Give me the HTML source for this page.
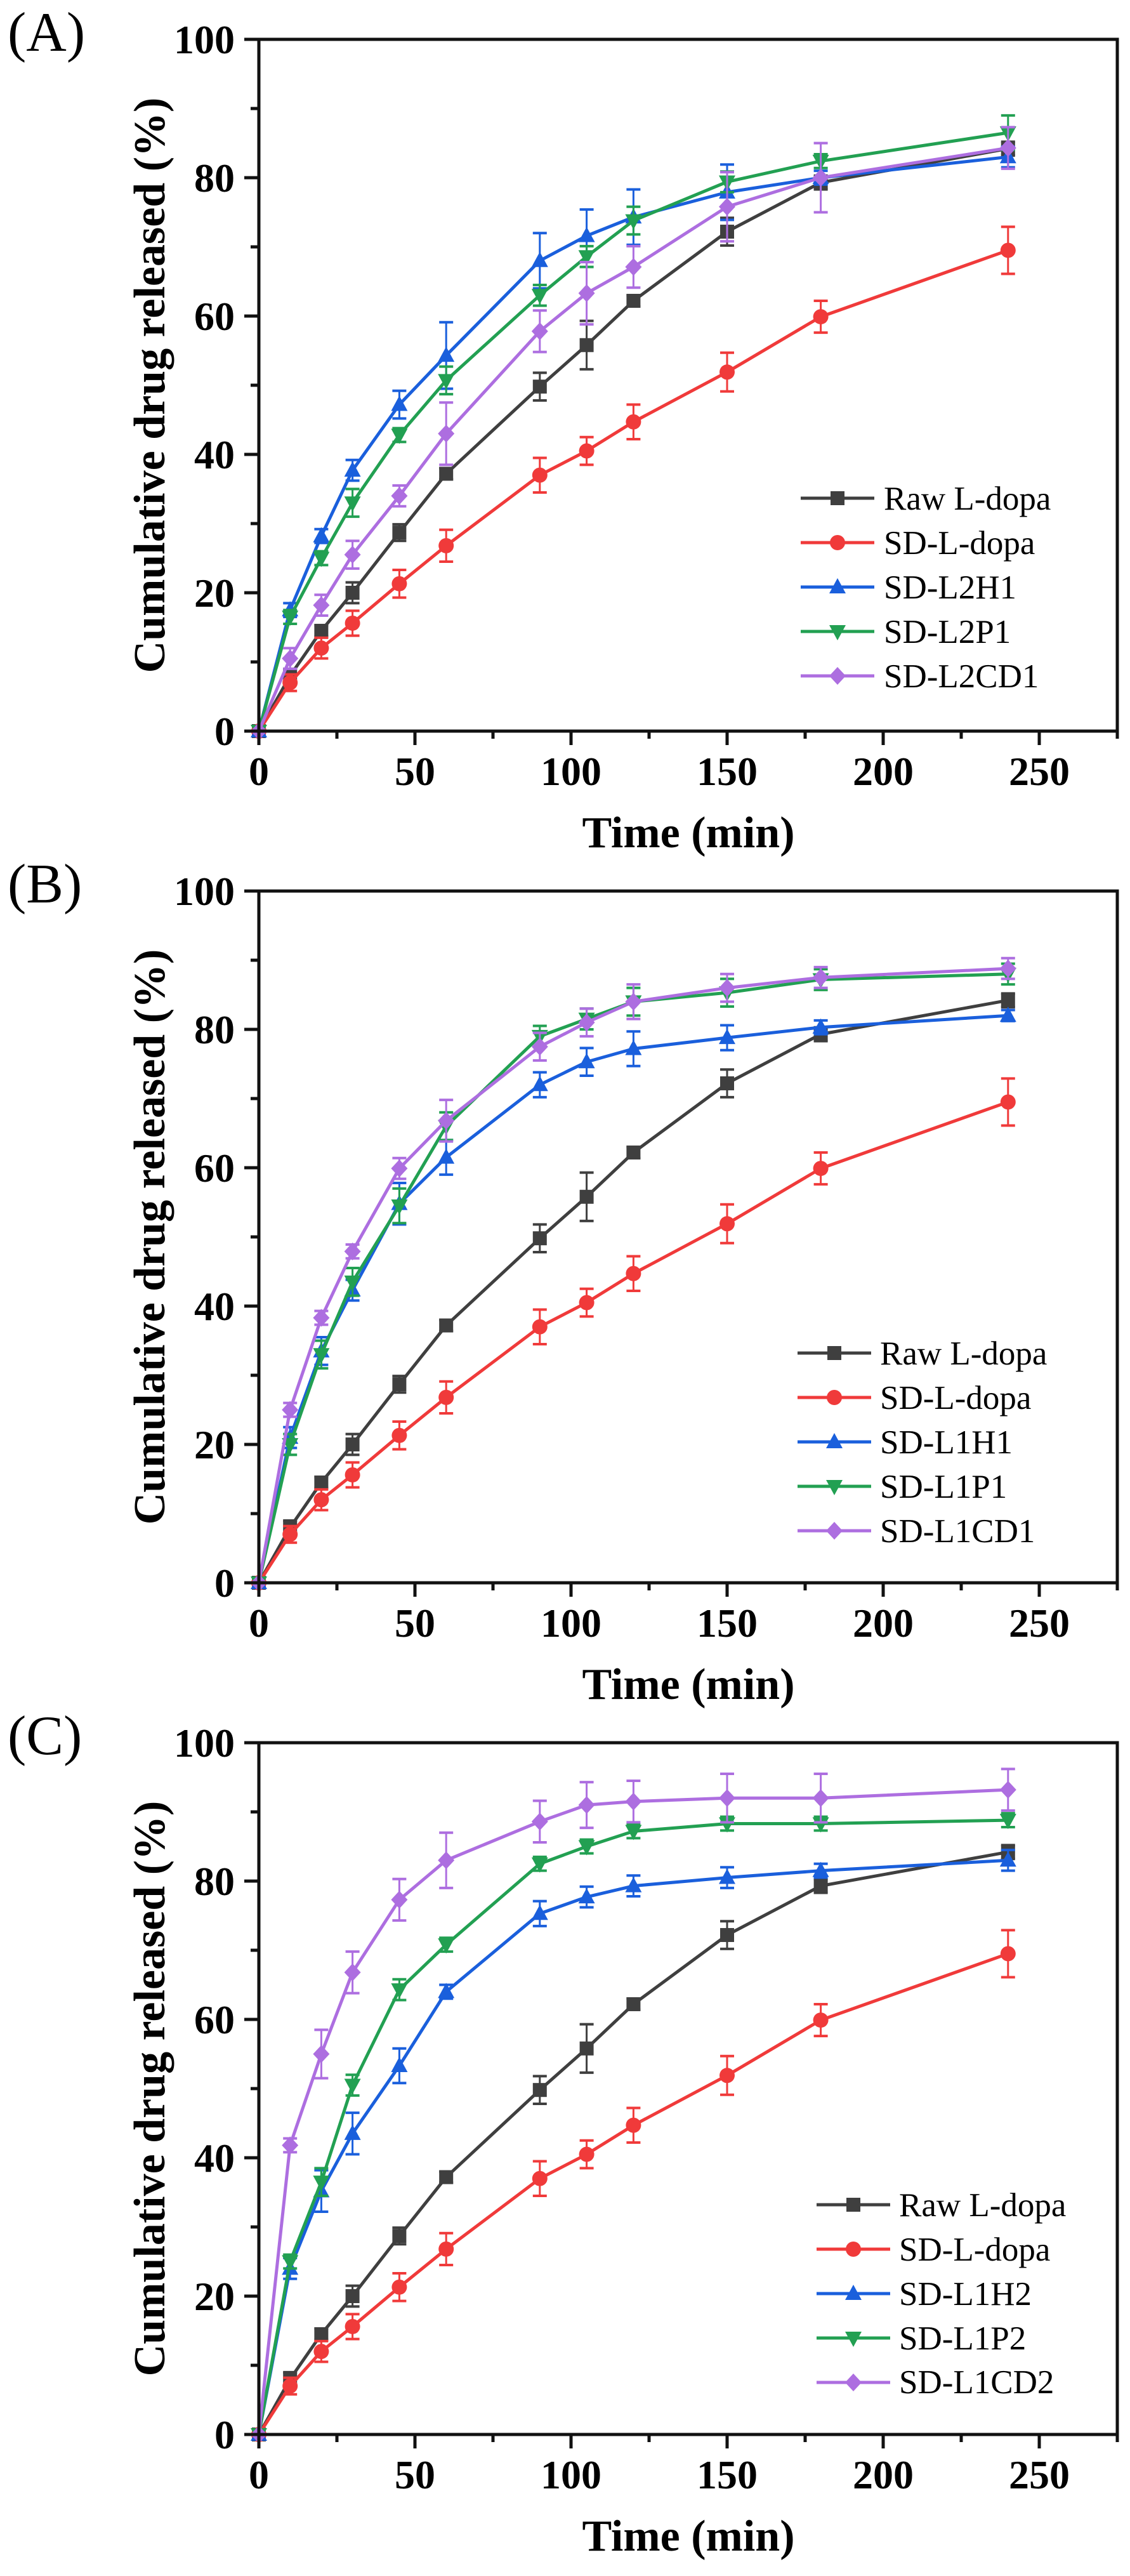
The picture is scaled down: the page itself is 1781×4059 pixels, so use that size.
<!DOCTYPE html>
<html><head><meta charset="utf-8">
<style>
html,body{margin:0;padding:0;background:#fff;}
svg{display:block;}
text{font-family:"Liberation Serif","Times New Roman",Times,serif;fill:#000;}
.tk{font-size:64px;font-weight:bold;}
.ti{font-size:70px;font-weight:bold;}
.lg{font-size:53px;}
.pl{font-size:88px;}
</style></head>
<body>
<svg id="s" width="1781" height="4059" viewBox="0 0 1781 4059" xmlns="http://www.w3.org/2000/svg" font-family="Liberation Serif, Times New Roman, serif">
<rect width="1781" height="4059" fill="#fff"/>
<g id="g"></g>
<!-- Panel A -->
<text class="pl" x="12" y="80">(A)</text>
<text class="tk" x="370" y="84" text-anchor="end">100</text>
<text class="tk" x="370" y="302" text-anchor="end">80</text>
<text class="tk" x="370" y="520" text-anchor="end">60</text>
<text class="tk" x="370" y="738" text-anchor="end">40</text>
<text class="tk" x="370" y="956" text-anchor="end">20</text>
<text class="tk" x="370" y="1174" text-anchor="end">0</text>
<text class="tk" x="408" y="1237" text-anchor="middle">0</text>
<text class="tk" x="654" y="1237" text-anchor="middle">50</text>
<text class="tk" x="900" y="1237" text-anchor="middle">100</text>
<text class="tk" x="1146" y="1237" text-anchor="middle">150</text>
<text class="tk" x="1392" y="1237" text-anchor="middle">200</text>
<text class="tk" x="1638" y="1237" text-anchor="middle">250</text>
<text class="ti" x="1085" y="1335" text-anchor="middle">Time (min)</text>
<text class="ti" x="0" y="0" text-anchor="middle" transform="translate(259,607) rotate(-90)">Cumulative drug released (%)</text>
<text class="lg" x="1393" y="803">Raw L-dopa</text>
<text class="lg" x="1393" y="873">SD-L-dopa</text>
<text class="lg" x="1393" y="943">SD-L2H1</text>
<text class="lg" x="1393" y="1013">SD-L2P1</text>
<text class="lg" x="1393" y="1083">SD-L2CD1</text>
<!-- Panel B -->
<text class="pl" x="12" y="1422">(B)</text>
<text class="tk" x="370" y="1426" text-anchor="end">100</text>
<text class="tk" x="370" y="1644" text-anchor="end">80</text>
<text class="tk" x="370" y="1862" text-anchor="end">60</text>
<text class="tk" x="370" y="2080" text-anchor="end">40</text>
<text class="tk" x="370" y="2298" text-anchor="end">20</text>
<text class="tk" x="370" y="2516" text-anchor="end">0</text>
<text class="tk" x="408" y="2579" text-anchor="middle">0</text>
<text class="tk" x="654" y="2579" text-anchor="middle">50</text>
<text class="tk" x="900" y="2579" text-anchor="middle">100</text>
<text class="tk" x="1146" y="2579" text-anchor="middle">150</text>
<text class="tk" x="1392" y="2579" text-anchor="middle">200</text>
<text class="tk" x="1638" y="2579" text-anchor="middle">250</text>
<text class="ti" x="1085" y="2677" text-anchor="middle">Time (min)</text>
<text class="ti" x="0" y="0" text-anchor="middle" transform="translate(259,1949) rotate(-90)">Cumulative drug released (%)</text>
<text class="lg" x="1387" y="2150">Raw L-dopa</text>
<text class="lg" x="1387" y="2220">SD-L-dopa</text>
<text class="lg" x="1387" y="2290">SD-L1H1</text>
<text class="lg" x="1387" y="2360">SD-L1P1</text>
<text class="lg" x="1387" y="2430">SD-L1CD1</text>
<!-- Panel C -->
<text class="pl" x="12" y="2764">(C)</text>
<text class="tk" x="370" y="2768" text-anchor="end">100</text>
<text class="tk" x="370" y="2986" text-anchor="end">80</text>
<text class="tk" x="370" y="3204" text-anchor="end">60</text>
<text class="tk" x="370" y="3422" text-anchor="end">40</text>
<text class="tk" x="370" y="3640" text-anchor="end">20</text>
<text class="tk" x="370" y="3858" text-anchor="end">0</text>
<text class="tk" x="408" y="3921" text-anchor="middle">0</text>
<text class="tk" x="654" y="3921" text-anchor="middle">50</text>
<text class="tk" x="900" y="3921" text-anchor="middle">100</text>
<text class="tk" x="1146" y="3921" text-anchor="middle">150</text>
<text class="tk" x="1392" y="3921" text-anchor="middle">200</text>
<text class="tk" x="1638" y="3921" text-anchor="middle">250</text>
<text class="ti" x="1085" y="4019" text-anchor="middle">Time (min)</text>
<text class="ti" x="0" y="0" text-anchor="middle" transform="translate(259,3291) rotate(-90)">Cumulative drug released (%)</text>
<text class="lg" x="1417" y="3492">Raw L-dopa</text>
<text class="lg" x="1417" y="3562">SD-L-dopa</text>
<text class="lg" x="1417" y="3632">SD-L1H2</text>
<text class="lg" x="1417" y="3702">SD-L1P2</text>
<text class="lg" x="1417" y="3771">SD-L1CD2</text>
</svg>
<script>
(function(){
var NS="http://www.w3.org/2000/svg",g=document.getElementById("g");
function el(n,a){var e=document.createElementNS(NS,n);for(var k in a)e.setAttribute(k,a[k]);g.appendChild(e);return e;}
var T=[0,10,20,30,45,60,90,105,120,150,180,240];
var C={k:"#3f3f3f",r:"#f03a3a",b:"#1a5fdc",gr:"#22a052",p:"#ad6ee0"};
var raw={c:C.k,m:"sq",v:[0,8,14.5,20,28.7,37.2,49.8,55.8,62.2,72.2,79.3,84.2],e:[0,1,0.8,1.5,1.2,0.8,2,3.5,0.8,2,1,1]};
var sd={c:C.r,m:"ci",v:[0,7,12,15.6,21.3,26.8,37,40.5,44.7,51.9,59.9,69.5],e:[0,1.2,1.5,1.8,2,2.3,2.5,2,2.5,2.8,2.3,3.4]};
var P=[
 {top:62,lx:1262,ly:785,s:[raw,sd,
  {c:C.b,m:"up",v:[0,17.5,28.2,37.7,47.2,54.3,68,71.6,74.3,77.9,80,83],e:[0,1,1,1.5,2,4.8,4,3.8,4,4,1,1.5]},
  {c:C.gr,m:"dn",v:[0,16.5,25,33,42.8,50.7,63,68.6,73.8,79.4,82.4,86.5],e:[0,1,1,2,1,2,1.5,1.5,2,1.5,1,2.5]},
  {c:C.p,m:"di",v:[0,10.5,18.2,25.5,34,43,57.8,63.3,67.1,75.8,80,84.3],e:[0,1.5,1.5,2,1.5,4.5,3,4.5,3,5,5,3]}]},
 {top:1404,lx:1257,ly:2132,s:[raw,sd,
  {c:C.b,m:"up",v:[0,21,33.5,42.3,54.8,61.5,72,75.3,77.2,78.8,80.3,82],e:[0,1.5,2,1.5,3,2.5,1.8,2,2.5,1.8,1,0.8]},
  {c:C.gr,m:"dn",v:[0,20,33,43.5,54.5,66,79,81.5,84,85.3,87.2,88],e:[0,1.5,2,2,2.5,2,1.5,1.5,2,2,1.5,1.5]},
  {c:C.p,m:"di",v:[0,25,38.3,47.9,59.9,66.8,77.5,81,84,86,87.5,88.8],e:[0,1,1,1,1.5,3,2,2,2.5,2,1.5,1.5]}]},
 {top:2746,lx:1287,ly:3474,s:[raw,sd,
  {c:C.b,m:"up",v:[0,24,35.2,43.5,53.3,64,75.3,77.7,79.3,80.5,81.5,83],e:[0,1.5,3,3,2.5,1,1.8,1.5,1.5,1.5,1,1.5]},
  {c:C.gr,m:"dn",v:[0,25,36.5,50.5,64.3,70.8,82.5,85,87.2,88.3,88.3,88.8],e:[0,1,2,1.5,1.5,1,1,1,1,1,1,1]},
  {c:C.p,m:"di",v:[0,41.8,55,66.8,77.3,83,88.6,91,91.5,92,92,93.2],e:[0,1,3.5,3,3,4,3,3.3,3,3.5,3.5,3]}]}
];
function px(t){return 408+t*4.92;}
function mk(m,x,y,c){
 var r=11;
 if(m=="sq")el("rect",{x:x-r,y:y-r,width:2*r,height:2*r,fill:c});
 else if(m=="ci")el("circle",{cx:x,cy:y,r:r+1,fill:c});
 else if(m=="up")el("polygon",{points:(x)+","+(y-r-3)+" "+(x-r-2)+","+(y+r-1)+" "+(x+r+2)+","+(y+r-1),fill:c});
 else if(m=="dn")el("polygon",{points:(x)+","+(y+r+3)+" "+(x-r-2)+","+(y-r+1)+" "+(x+r+2)+","+(y-r+1),fill:c});
 else el("polygon",{points:x+","+(y-r-3)+" "+(x+r+2)+","+y+" "+x+","+(y+r+3)+" "+(x-r-2)+","+y,fill:c});
}
P.forEach(function(p){
 var top=p.top,bot=top+1090;
 function py(v){return bot-v*10.9;}
 p.s.forEach(function(s){
  var pts=T.map(function(t,i){return px(t)+","+py(s.v[i]);}).join(" ");
  el("polyline",{points:pts,fill:"none",stroke:s.c,"stroke-width":5,"stroke-linejoin":"round"});
  T.forEach(function(t,i){
   if(!s.e[i])return;var x=px(t),y1=py(s.v[i]+s.e[i]),y2=py(s.v[i]-s.e[i]);
   el("line",{x1:x,y1:y1,x2:x,y2:y2,stroke:s.c,"stroke-width":3});
   el("line",{x1:x-11,y1:y1,x2:x+11,y2:y1,stroke:s.c,"stroke-width":4});
   el("line",{x1:x-11,y1:y2,x2:x+11,y2:y2,stroke:s.c,"stroke-width":4});
  });
  T.forEach(function(t,i){mk(s.m,px(t),py(s.v[i]),s.c);});
 });
 p.s.forEach(function(s,i){
  var y=p.ly+i*70;
  el("line",{x1:p.lx,y1:y,x2:p.lx+116,y2:y,stroke:s.c,"stroke-width":5});
  mk(s.m,p.lx+58,y,s.c);
 });
 el("rect",{x:408,y:top,width:1353,height:1090,fill:"none",stroke:"#111","stroke-width":5});
 for(var v=0;v<=100;v+=10){var y=py(v),L=(v%20==0)?23:13;el("line",{x1:408-L,y1:y,x2:408,y2:y,stroke:"#111","stroke-width":5});}
 for(var t=0;t<=275;t+=25){var x=px(t),L=(t%50==0)?22:12;el("line",{x1:x,y1:bot,x2:x,y2:bot+L,stroke:"#111","stroke-width":5});}
});
})();
</script>
</body></html>
